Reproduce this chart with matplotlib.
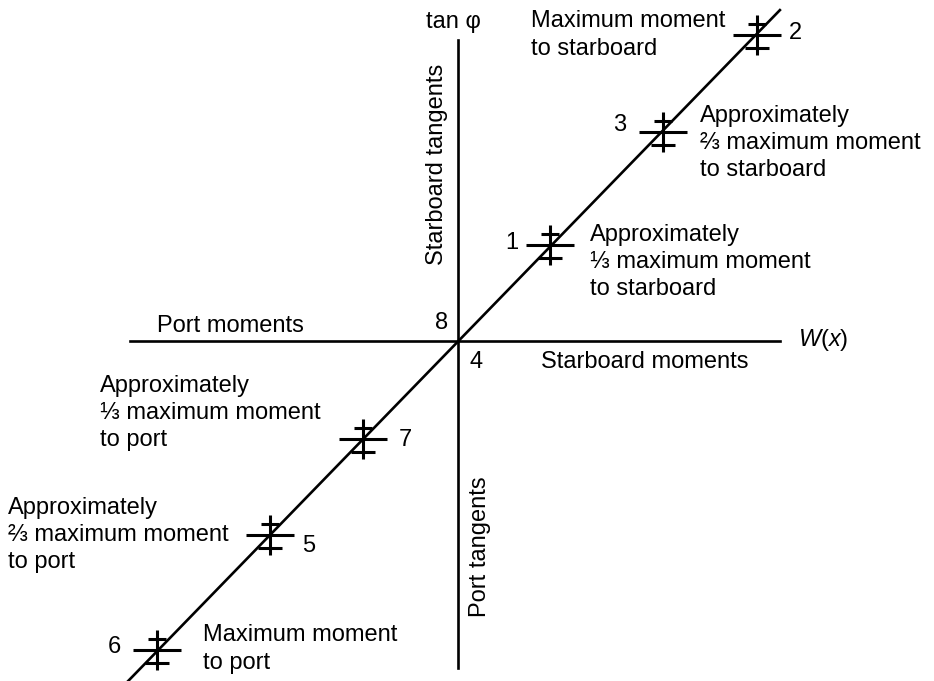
import matplotlib
matplotlib.use("Agg")
import matplotlib.pyplot as plt

plt.rcParams['font.family'] = ['Liberation Sans', 'DejaVu Sans']
plt.rcParams['mathtext.fontset'] = 'custom'
plt.rcParams['mathtext.it'] = 'Liberation Sans:italic'
plt.rcParams['mathtext.rm'] = 'Liberation Sans'

# pontos marcados na diagonal (fração do momento máximo)
rotulos = ['1', '3', '2', '7', '5', '6']
momento_w = [0.307, 0.683, 0.997, -0.317, -0.627, -1.003]
tan_phi = [0.320, 0.697, 1.020, -0.327, -0.647, -1.030]

# extremos das linhas
diag_w = [-1.103, 1.073]
diag_tan = [-1.137, 1.103]
eixo_h_w = [-1.093, 1.073]
eixo_v_tan = [-1.090, 1.003]

W, H = 934, 681
fig = plt.figure(figsize=(W / 100, H / 100), dpi=100)
ax = fig.add_axes([0, 0, 1, 1])
esc = 300.0  # pixels por unidade
x0, y0 = 458, 341
ax.set_xlim(-x0 / esc, (W - x0) / esc)
ax.set_ylim(-(H - y0) / esc, y0 / esc)
ax.axis('off')

lw = 1.9
ax.plot(eixo_h_w, [0, 0], color='black', lw=lw)
ax.plot([0, 0], eixo_v_tan, color='black', lw=lw)
ax.plot(diag_w, diag_tan, color='black', lw=lw)

# marcas: traço vertical + três horizontais
p = 1 / esc
for w, t in zip(momento_w, tan_phi):
    kw = dict(color='black', lw=2.2, solid_capstyle='butt')
    ax.plot([w, w], [t - 20 * p, t + 20 * p], **kw)
    ax.plot([w - 24 * p, w + 24 * p], [t, t], **kw)
    ax.plot([w - 9 * p, w + 9 * p], [t + 11 * p, t + 11 * p], **kw)
    ax.plot([w - 12 * p, w + 12 * p], [t - 13 * p, t - 13 * p], **kw)


def texto(x, y, s, **kw):
    kw.setdefault('fontsize', 17)
    kw.setdefault('va', 'center')
    kw.setdefault('linespacing', 1.32)
    fig.text(x / W, 1 - y / H, s, **kw)


texto(426, 22, 'tan φ')
texto(725, 35, 'Maximum moment\nto starboard', ha='right', multialignment='left')
texto(789, 33, '2')
texto(613, 125, '3')
texto(700, 143, 'Approximately\n⅔ maximum moment\nto starboard')
texto(437, 164, 'Starboard tangents', rotation=90, ha='center')
texto(505, 243, '1')
texto(590, 262, 'Approximately\n⅓ maximum moment\nto starboard')
texto(230, 326, 'Port moments', ha='center')
texto(435, 323, '8')
texto(798, 340, r'$W(x)$')
texto(470, 362, '4')
texto(541, 362, 'Starboard moments')
texto(100, 413, 'Approximately\n⅓ maximum moment\nto port')
texto(399, 440, '7')
texto(480, 547, 'Port tangents', rotation=90, ha='center')
texto(8, 535, 'Approximately\n⅔ maximum moment\nto port')
texto(302, 546, '5')
texto(108, 647, '6')
texto(203, 649, 'Maximum moment\nto port')

fig.savefig('out.png', dpi=100)
